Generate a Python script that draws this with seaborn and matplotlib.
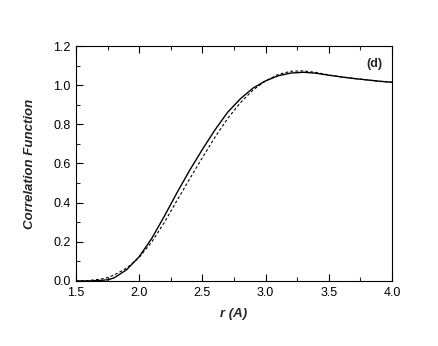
import pandas as pd
import matplotlib
matplotlib.use("Agg")
import matplotlib.pyplot as plt
from matplotlib.ticker import MultipleLocator
import seaborn as sns

r_vals = [1.5, 1.6, 1.7, 1.75, 1.8, 1.9, 2.0, 2.1, 2.2, 2.3, 2.4, 2.5, 2.6, 2.7,
          2.8, 2.9, 3.0, 3.1, 3.2, 3.3, 3.4, 3.5, 3.6, 3.7, 3.8, 3.9, 4.0]
solid_vals = [0.0, 0.0, 0.003, 0.006, 0.015, 0.057, 0.124, 0.218, 0.332, 0.452,
              0.566, 0.672, 0.772, 0.862, 0.93, 0.985, 1.022, 1.048, 1.062, 1.066,
              1.061, 1.051, 1.042, 1.034, 1.027, 1.02, 1.015]
dashed_vals = [0.0, 0.002, 0.01, 0.017, 0.03, 0.065, 0.12, 0.2, 0.3, 0.412,
               0.522, 0.63, 0.735, 0.83, 0.91, 0.975, 1.022, 1.055, 1.071, 1.073,
               1.065, 1.052, 1.042, 1.034, 1.027, 1.02, 1.015]
x_ticks = [1.5, 2.0, 2.5, 3.0, 3.5, 4.0]
y_ticks = [0.0, 0.2, 0.4, 0.6, 0.8, 1.0, 1.2]

df = pd.DataFrame({"r": r_vals * 2,
                   "g": solid_vals + dashed_vals,
                   "kind": ["solid"] * len(r_vals) + ["dashed"] * len(r_vals)})

sns.set_style("ticks")
plt.rcParams["font.family"] = ["Liberation Sans", "DejaVu Sans"]

fig = plt.figure(figsize=(4.38, 3.46), dpi=100)
ax = fig.add_axes([0.1735, 0.188, 0.7215, 0.679])

sns.lineplot(data=df[df.kind == "solid"], x="r", y="g", ax=ax, color="black",
             lw=1.0, estimator=None, sort=True)
sns.lineplot(data=df[df.kind == "dashed"], x="r", y="g", ax=ax, color="black",
             lw=0.8, estimator=None, sort=True, dashes=False)
ax.lines[-1].set_linestyle((0, (2.5, 2)))

ax.set_xlim(1.5, 4.0)
ax.set_ylim(0.0, 1.2)
ax.set_xticks(x_ticks)
ax.set_yticks(y_ticks)
ax.set_xticklabels([f"{v:.1f}" for v in x_ticks])
ax.set_yticklabels([f"{v:.1f}" for v in y_ticks])
ax.xaxis.set_minor_locator(MultipleLocator(0.25))
ax.yaxis.set_minor_locator(MultipleLocator(0.1))
ax.tick_params(axis="both", which="major", direction="in", length=5, width=0.8,
               labelsize=9, colors="black")
ax.tick_params(axis="x", which="major", pad=4)
ax.tick_params(axis="y", which="major", pad=4)
ax.tick_params(axis="both", which="minor", direction="in", length=3, width=0.8)
ax.tick_params(axis="x", which="both", top=True)
ax.tick_params(axis="y", which="both", right=False)
for s in ax.spines.values():
    s.set_visible(True)
    s.set_linewidth(0.8)
    s.set_color("black")

ax.set_xlabel("r (A)", fontsize=9.5, fontweight="bold", fontstyle="italic", labelpad=7)
ax.set_ylabel("Correlation Function", fontsize=9.5, fontweight="bold",
              fontstyle="italic", labelpad=12)
ax.text(0.945, 0.95, "(d)", transform=ax.transAxes, fontsize=9,
        fontweight="bold", ha="center", va="top")

fig.savefig("out.png", dpi=100)
